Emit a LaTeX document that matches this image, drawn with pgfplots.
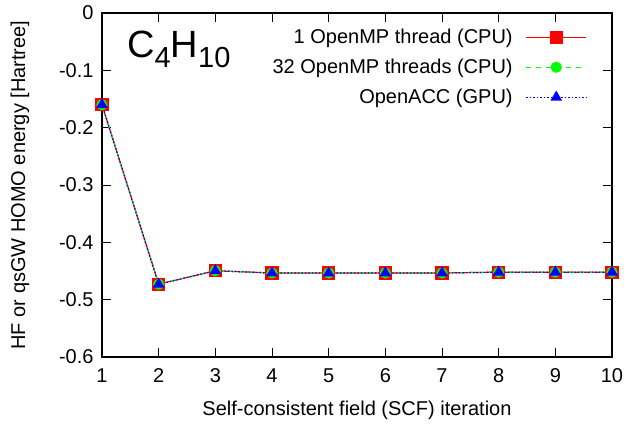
\documentclass[border=0pt]{standalone}
\usepackage{fontspec}
\setmainfont{Liberation Sans}
\usepackage{pgfplots}
\pgfplotsset{compat=1.18}

\definecolor{gpred}{RGB}{255,0,0}
\definecolor{gpgreen}{RGB}{0,255,0}
\definecolor{gpblue}{RGB}{0,0,255}

\newcommand{\plotfont}{\fontsize{20}{24}\selectfont}

\begin{document}
\begin{tikzpicture}
% fixed page frame around the plot box (plot box: 510 x 344)
\useasboundingbox (-102pt,-67pt) rectangle (525pt,357pt);
\begin{axis}[
  scale only axis,
  width=510pt, height=344pt,
  xmin=1, xmax=10, ymin=-0.6, ymax=0,
  xtick={1,2,...,10},
  ytick={-0.6,-0.5,-0.4,-0.3,-0.2,-0.1,0},
  yticklabels={-0.6,-0.5,-0.4,-0.3,-0.2,-0.1,0},
  /pgf/number format/assume math mode=true,
  tick align=inside,
  major tick length=9pt,
  tick style={black, line width=0.8pt},
  axis line style={black, line width=1.6pt},
  ticklabel style={font=\plotfont},
  label style={font=\plotfont},
  yticklabel style={xshift=-5pt},
  xticklabel style={yshift=-8pt},
  xlabel={Self-consistent field (SCF) iteration},
  ylabel={HF or qsGW HOMO energy [Hartree]},
  xlabel style={at={(axis description cs:0.5,-0.154)}, anchor=center},
  ylabel style={at={(axis description cs:-0.161,0.5)}, anchor=center},
  legend style={
    at={(axis description cs:0.957,0.965)}, anchor=north east,
    draw=none, fill=none, font=\plotfont,
    row sep=10pt,
  },
  legend cell align=right,
  legend plot pos=right,
  legend image code/.code={
    \path (-11pt,0pt);
    \draw[mark repeat=2,mark phase=2] plot coordinates {(0pt,0pt) (30pt,0pt) (60pt,0pt)};
  },
]
\addplot[draw=gpred, line width=1.2pt, mark=square*, mark size=6pt,
         mark options={solid, draw=gpred, fill=gpred}]
  coordinates {(1,-0.160) (2,-0.473) (3,-0.4495) (4,-0.4535) (5,-0.4535)
               (6,-0.4535) (7,-0.4535) (8,-0.452) (9,-0.452) (10,-0.452)};
\addlegendentry{1 OpenMP thread (CPU)}
\addplot[draw=gpgreen, line width=1.2pt, dash pattern=on 5pt off 5pt,
         mark=*, mark size=5pt, mark options={solid, draw=gpgreen, fill=gpgreen}]
  coordinates {(1,-0.160) (2,-0.473) (3,-0.4495) (4,-0.4535) (5,-0.4535)
               (6,-0.4535) (7,-0.4535) (8,-0.452) (9,-0.452) (10,-0.452)};
\addlegendentry{32 OpenMP threads (CPU)}
\addplot[draw=gpblue, line width=1.2pt, dash pattern=on 1.5pt off 2pt,
         mark=triangle*, mark size=5.5pt, mark options={solid, draw=gpblue, fill=gpblue}]
  coordinates {(1,-0.160) (2,-0.473) (3,-0.4495) (4,-0.4535) (5,-0.4535)
               (6,-0.4535) (7,-0.4535) (8,-0.452) (9,-0.452) (10,-0.452)};
\addlegendentry{OpenACC (GPU)}
\node[anchor=base west, inner sep=0pt, font=\fontsize{38}{42}\selectfont]
  at (axis description cs:0.049,0.872)
  {C\raisebox{-0.27em}{\fontsize{29}{29}\selectfont 4}H\raisebox{-0.27em}{\fontsize{29}{29}\selectfont 10}};
\end{axis}
\end{tikzpicture}
\end{document}
